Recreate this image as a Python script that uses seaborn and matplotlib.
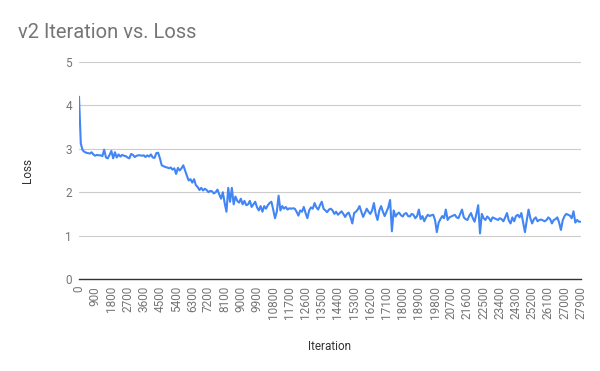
import seaborn as sns
import pandas
import matplotlib.pyplot as plt

# loss values, one every 100 iterations
loss_part1 = [4.20, 3.12, 2.97, 2.93, 2.91, 2.90, 2.89, 2.92, 2.87, 2.84,
              2.86, 2.85, 2.85, 2.83, 2.98, 2.80, 2.78, 2.86, 2.95, 2.78,
              2.92, 2.80, 2.87, 2.82, 2.86, 2.84, 2.83, 2.80, 2.78, 2.88,
              2.86, 2.81, 2.84, 2.85, 2.85, 2.84, 2.85, 2.81, 2.85, 2.82,
              2.87, 2.80, 2.79, 2.90, 2.91, 2.78]
loss_part2 = [2.62, 2.60, 2.58, 2.57, 2.55, 2.57, 2.52, 2.55, 2.42, 2.56,
              2.50, 2.55, 2.62, 2.50, 2.38, 2.27, 2.30, 2.22, 2.30, 2.16,
              2.12, 2.05, 2.10, 2.04, 2.08, 2.05, 2.00, 2.03, 2.02, 1.97,
              2.00, 2.06, 1.95, 1.85, 2.00, 1.75, 1.55, 2.10, 1.78, 2.10,
              1.72, 1.90, 1.80, 1.76, 1.85, 1.72, 1.80, 1.70]
loss_part3 = [1.72, 1.80, 1.66, 1.72, 1.78, 1.65, 1.58, 1.68, 1.55, 1.68,
              1.62, 1.70, 1.75, 1.78, 1.60, 1.40, 1.55, 1.92, 1.58, 1.68,
              1.62, 1.66, 1.60, 1.63, 1.62, 1.63, 1.62, 1.55, 1.46, 1.58,
              1.55, 1.66, 1.52, 1.40, 1.58, 1.65, 1.62, 1.75, 1.65, 1.60,
              1.70, 1.78, 1.62, 1.58, 1.54, 1.60, 1.62]
loss_part4 = [1.58, 1.50, 1.55, 1.48, 1.52, 1.56, 1.50, 1.43, 1.50, 1.53,
              1.42, 1.28, 1.52, 1.55, 1.60, 1.68, 1.55, 1.43, 1.52, 1.62,
              1.55, 1.50, 1.58, 1.75, 1.50, 1.36, 1.58, 1.68, 1.55, 1.45,
              1.55, 1.65, 1.82, 1.10, 1.58, 1.44, 1.50, 1.53, 1.47, 1.44,
              1.50, 1.52, 1.45, 1.44, 1.50, 1.48, 1.40]
loss_part5 = [1.45, 1.60, 1.38, 1.45, 1.33, 1.42, 1.48, 1.45, 1.47, 1.48,
              1.36, 1.08, 1.30, 1.38, 1.45, 1.40, 1.60, 1.36, 1.42, 1.44,
              1.46, 1.48, 1.42, 1.40, 1.50, 1.60, 1.42, 1.38, 1.36, 1.45,
              1.52, 1.40, 1.32, 1.50, 1.70, 1.05, 1.50, 1.40, 1.36, 1.44,
              1.40, 1.33, 1.42, 1.40, 1.38, 1.36, 1.40]
loss_part6 = [1.38, 1.33, 1.42, 1.52, 1.35, 1.28, 1.42, 1.33, 1.45, 1.48,
              1.42, 1.52, 1.30, 1.08, 1.35, 1.60, 1.40, 1.28, 1.38, 1.42,
              1.33, 1.36, 1.37, 1.35, 1.33, 1.36, 1.42, 1.38, 1.28, 1.36,
              1.38, 1.42, 1.30, 1.13, 1.35, 1.45, 1.50, 1.48, 1.46, 1.40,
              1.56, 1.30, 1.36, 1.32, 1.32]

loss = loss_part1 + loss_part2 + loss_part3 + loss_part4 + loss_part5 + loss_part6
iteration = [i * 100 for i in range(len(loss))]
x_ticks = list(range(0, 28000, 900))
y_ticks = [0, 1, 2, 3, 4, 5]

data = pandas.DataFrame({"Iteration": iteration, "Loss": loss})

sns.set_style("white")
plt.rcParams["font.family"] = ["Roboto", "DejaVu Sans"]

fig = plt.figure(figsize=(6, 3.71), dpi=100)
ax = fig.add_axes([79 / 600, 1 - 279 / 371, 501.7 / 600, 217 / 371])

sns.lineplot(data=data, x="Iteration", y="Loss", ax=ax,
             color="#4285F4", linewidth=1.5)

ax.set_xlim(0, iteration[-1])
ax.set_ylim(0, 5)
ax.set_xticks(x_ticks)
ax.set_xticklabels([str(t) for t in x_ticks], rotation=90, fontsize=8.5, color="#757575")
ax.set_yticks(y_ticks)
ax.set_yticklabels([str(t) for t in y_ticks], fontsize=8.5, color="#757575")
ax.tick_params(axis="both", length=0, pad=5)

ax.grid(axis="y", color="#cccccc", linewidth=0.8)
ax.grid(axis="x", visible=False)
for side in ["top", "right", "left"]:
    ax.spines[side].set_visible(False)
ax.spines["bottom"].set_color("#333333")
ax.spines["bottom"].set_linewidth(1.0)

ax.set_xlabel("Iteration", fontsize=8.5, color="#333333")
ax.set_ylabel("Loss", fontsize=8.5, color="#333333")
ax.xaxis.set_label_coords(0.5, -0.28)
ax.yaxis.set_label_coords(-0.09, 0.5)

fig.text(18 / 600, 1 - 32 / 371, "v2 Iteration vs. Loss", fontsize=14.5,
         color="#757575", ha="left", va="center")

fig.savefig("out.png", dpi=100)
